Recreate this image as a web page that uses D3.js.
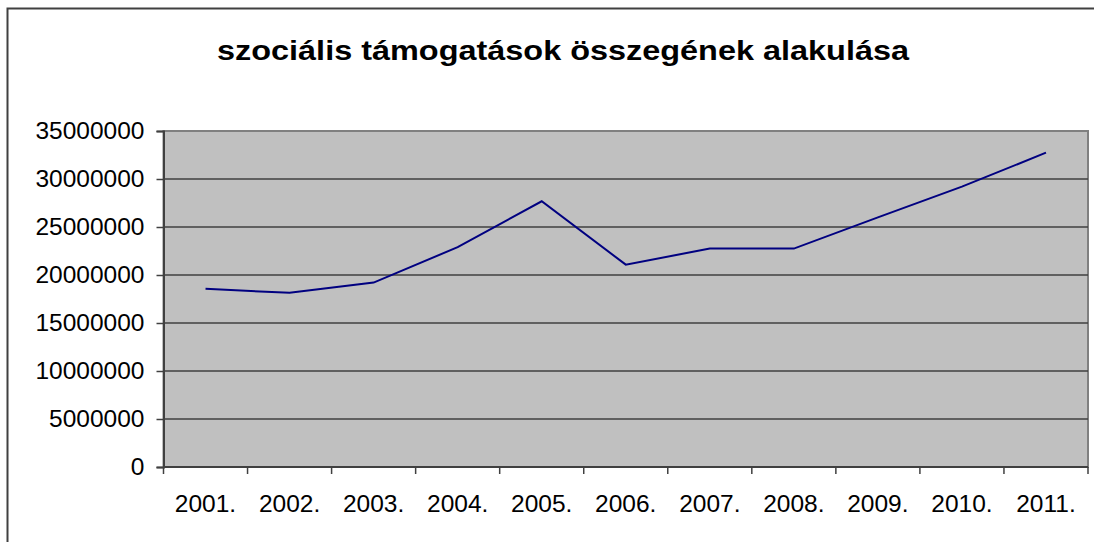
<!DOCTYPE html>
<html>
<head>
<meta charset="utf-8">
<script src="https://cdn.jsdelivr.net/npm/d3@7"></script>
<style>
  body { margin: 0; background: #fff; }
  svg { display: block; font-family: "Liberation Sans", Arial, sans-serif; }
</style>
</head>
<body>
<div id="chart"></div>
<script>
const chartTitle = "szociális támogatások összegének alakulása";
const years = ["2001.", "2002.", "2003.", "2004.", "2005.", "2006.", "2007.", "2008.", "2009.", "2010.", "2011."];
const amounts = [18560000, 18140000, 19210000, 22900000, 27680000, 21080000, 22750000, 22750000, 26000000, 29200000, 32740000];
const yTicks = [0, 5000000, 10000000, 15000000, 20000000, 25000000, 30000000, 35000000];

const W = 1094, H = 542;
const margin = { top: 131, right: 6, bottom: 75, left: 163.5 };
const width = W - margin.left - margin.right;
const height = H - margin.top - margin.bottom;

const svg = d3.select("#chart").append("svg")
  .attr("width", W)
  .attr("height", H);

// outer chart frame (runs off the right and bottom edges)
svg.append("rect")
  .attr("x", 7.5).attr("y", 8.5)
  .attr("width", W + 20).attr("height", H + 20)
  .attr("fill", "none")
  .attr("stroke", "#404040")
  .attr("stroke-width", 2);

svg.append("text")
  .attr("x", 217)
  .attr("y", 59.5)
  .attr("textLength", 692)
  .attr("lengthAdjust", "spacingAndGlyphs")
  .style("font-size", "28px")
  .style("font-weight", "bold")
  .text(chartTitle);

const g = svg.append("g").attr("transform", `translate(${margin.left},${margin.top})`);

const x = d3.scaleBand().domain(years).range([0, width]);
const y = d3.scaleLinear().domain([0, 35000000]).range([height, 0]);

g.append("rect")
  .attr("width", width)
  .attr("height", height)
  .attr("fill", "#c0c0c0")
  .attr("stroke", "#808080")
  .attr("stroke-width", 2);

// horizontal gridlines
g.append("g")
  .selectAll("line")
  .data(yTicks.slice(1, -1))
  .join("line")
  .attr("x1", 0).attr("x2", width)
  .attr("y1", d => y(d)).attr("y2", d => y(d))
  .attr("stroke", "#404040")
  .attr("stroke-width", 1.5);

const yAxis = g.append("g")
  .call(d3.axisLeft(y).tickValues(yTicks).tickFormat(d3.format("d")).tickSize(7).tickPadding(12));
yAxis.select(".domain").attr("stroke", "#404040").attr("stroke-width", 2);
yAxis.selectAll(".tick line").attr("stroke", "#404040").attr("stroke-width", 1.5);
yAxis.selectAll(".tick text").style("font-size", "24.5px").attr("fill", "#000").attr("dy", "0.3em");

// category boundary ticks on the x axis
const bounds = years.map(d => x(d)).concat([width]);
const xAxis = g.append("g").attr("transform", `translate(0,${height})`);
xAxis.append("line")
  .attr("x1", 0).attr("x2", width)
  .attr("stroke", "#404040").attr("stroke-width", 2);
xAxis.selectAll(".xtick")
  .data(bounds)
  .join("line")
  .attr("class", "xtick")
  .attr("x1", d => d).attr("x2", d => d)
  .attr("y1", 0).attr("y2", 7)
  .attr("stroke", "#404040").attr("stroke-width", 1.5);
xAxis.selectAll("text")
  .data(years)
  .join("text")
  .attr("x", d => x(d) + x.bandwidth() / 2)
  .attr("y", 44.5)
  .attr("text-anchor", "middle")
  .style("font-size", "24.5px")
  .text(d => d);

const line = d3.line()
  .x((d, i) => x(years[i]) + x.bandwidth() / 2)
  .y(d => y(d));

g.append("path")
  .datum(amounts)
  .attr("d", line)
  .attr("fill", "none")
  .attr("stroke", "#000080")
  .attr("stroke-width", 2);
</script>
</body>
</html>
